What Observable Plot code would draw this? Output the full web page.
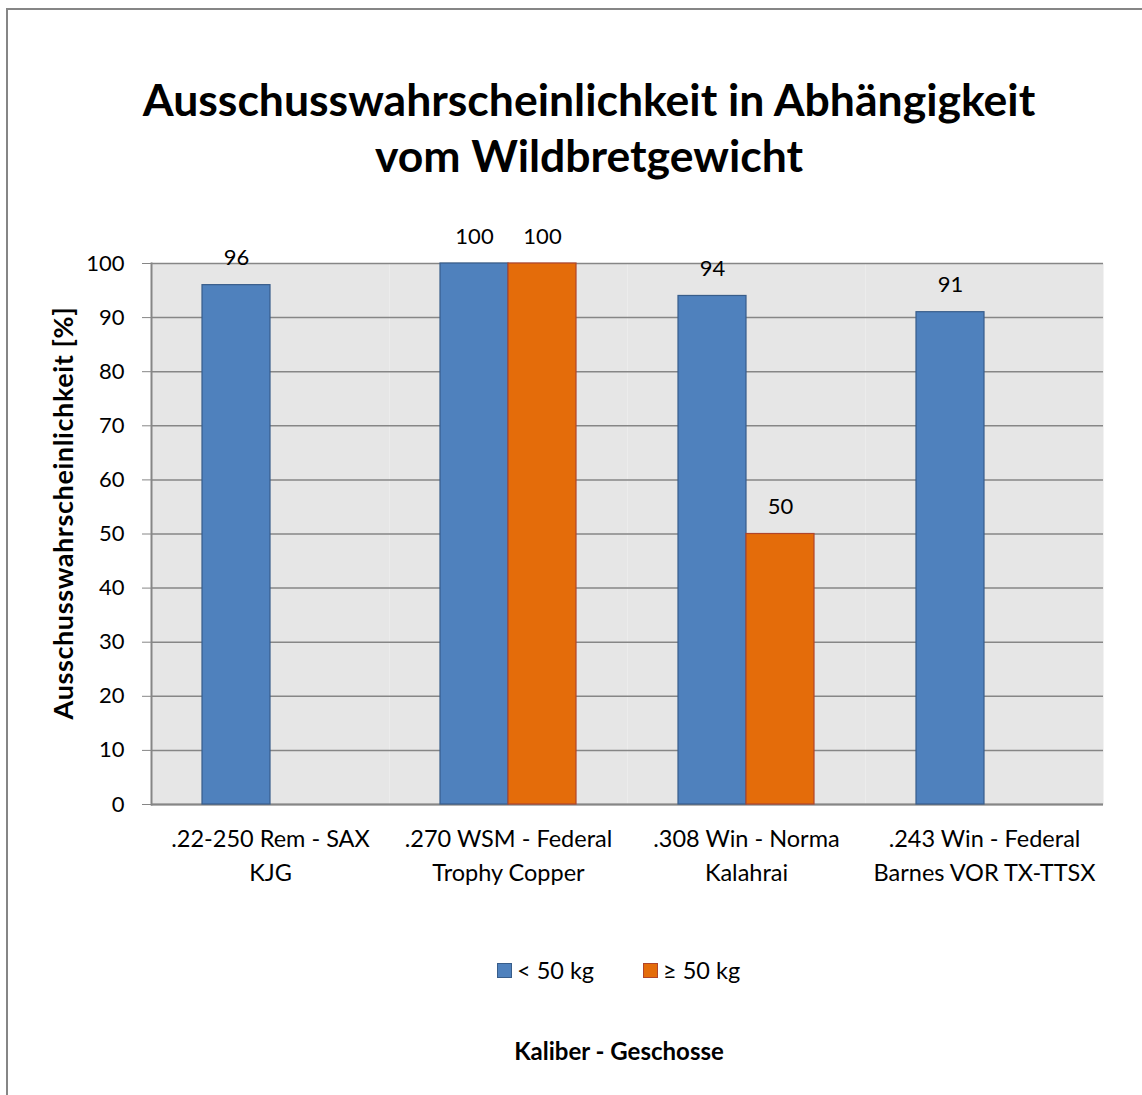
<!DOCTYPE html>
<html>
<head>
<meta charset="utf-8">
<script src="https://cdn.jsdelivr.net/npm/d3@7"></script>
<script src="https://cdn.jsdelivr.net/npm/@observablehq/plot@0.6"></script>
<style>
  html, body { margin: 0; padding: 0; background: #fff; overflow: hidden; }
  body { width: 1142px; height: 1095px; position: relative; font-family: Lato, "Open Sans", sans-serif; color: #000; }
  #border { position: absolute; left: 6px; top: 8px; width: 1136px; height: 1087px; border-left: 2px solid #868686; border-top: 2px solid #868686; box-sizing: border-box; }
  #title { position: absolute; left: 39px; width: 1100px; top: 71px; text-align: center; font-weight: bold; font-size: 44.5px; line-height: 56px; }
  #chart { position: absolute; left: 0; top: 200px; }
  #ylabel { position: absolute; left: 62px; top: 513px; transform: translate(-50%, -50%) rotate(-90deg); font-weight: bold; font-size: 27px; letter-spacing: 0.6px; white-space: nowrap; }
  #legend { position: absolute; top: 956px; left: 497px; display: flex; align-items: center; font-size: 23.5px; white-space: nowrap; }
  #legend .sw { width: 13px; height: 13px; display: inline-block; margin-right: 5px; }
  #legend .item { display: flex; align-items: center; margin-right: 49px; }
  #xtitle { position: absolute; left: 419px; width: 400px; top: 1036px; text-align: center; font-weight: bold; font-size: 24px; }
</style>
</head>
<body>
<div id="border"></div>
<div id="title">Ausschusswahrscheinlichkeit in Abhängigkeit<br>vom Wildbretgewicht</div>
<div id="chart"></div>
<div id="ylabel">Ausschusswahrscheinlichkeit [%]</div>
<div id="legend"></div>
<div id="xtitle">Kaliber - Geschosse</div>
<script>
// ---- data ----
const categories = [
  ".22-250 Rem - SAX\nKJG",
  ".270 WSM - Federal\nTrophy Copper",
  ".308 Win - Norma\nKalahrai",
  ".243 Win - Federal\nBarnes VOR TX-TTSX"
];
const seriesNames = ["< 50 kg", "≥ 50 kg"];
const valuesUnder50 = [96, 100, 94, 91];
const valuesOver50 = [null, 100, 50, null];
const yTicks = [0, 10, 20, 30, 40, 50, 60, 70, 80, 90, 100];

// ---- styles ----
const fills = ["#4f81bd", "#e46c0a"];
const strokes = ["#385d8a", "#b0452b"];

const rows = [];
categories.forEach((c, i) => {
  if (valuesUnder50[i] != null) rows.push({cat: c, series: seriesNames[0], value: valuesUnder50[i]});
  if (valuesOver50[i] != null) rows.push({cat: c, series: seriesNames[1], value: valuesOver50[i]});
});

const chart = Plot.plot({
  width: 1142,
  height: 720,
  marginTop: 63,
  marginBottom: 116,
  marginLeft: 150,
  marginRight: 38,
  style: {fontFamily: "Lato, 'Open Sans', sans-serif", fontSize: "22px", color: "#000", background: "transparent"},
  fx: {domain: categories, padding: 0, label: null},
  x: {domain: seriesNames, paddingInner: 0, paddingOuter: 0.73, axis: null},
  y: {domain: [0, 100], label: null},
  marks: [
    Plot.frame({fill: "#e6e6e6", stroke: null}),
    Plot.gridY(yTicks, {stroke: "#868686", strokeOpacity: 1, strokeWidth: 1.5}),
    Plot.ruleY([0], {stroke: "#868686", strokeWidth: 2}),
    Plot.barY(rows.filter(d => d.series === seriesNames[0]), {fx: "cat", x: "series", y: "value", fill: fills[0], stroke: strokes[0], strokeWidth: 1.2}),
    Plot.barY(rows.filter(d => d.series === seriesNames[1]), {fx: "cat", x: "series", y: "value", fill: fills[1], stroke: strokes[1], strokeWidth: 1.2}),
    Plot.text(rows, {fx: "cat", x: "series", y: "value", text: d => String(d.value), dy: -27, fill: "#000", fontSize: 22}),
    Plot.axisY({ticks: yTicks, tickSize: 9, tickPadding: 18, stroke: "#868686", fill: "#000", fontSize: 22, label: null}),
    Plot.frame({anchor: "left", facetAnchor: "left", stroke: "#868686", strokeWidth: 2}),
    Plot.axisFx({anchor: "bottom", tickSize: 0, tickPadding: 18, lineHeight: 1.46, fontSize: 23.5, fill: "#000", label: null})
  ]
});
document.getElementById("chart").appendChild(chart);

// legend
const legend = document.getElementById("legend");
seriesNames.forEach((s, i) => {
  const item = document.createElement("div");
  item.className = "item";
  const sw = document.createElement("span");
  sw.className = "sw";
  sw.style.background = fills[i];
  sw.style.border = "1px solid " + strokes[i];
  item.appendChild(sw);
  item.appendChild(document.createTextNode(s));
  legend.appendChild(item);
});
</script>
</body>
</html>
